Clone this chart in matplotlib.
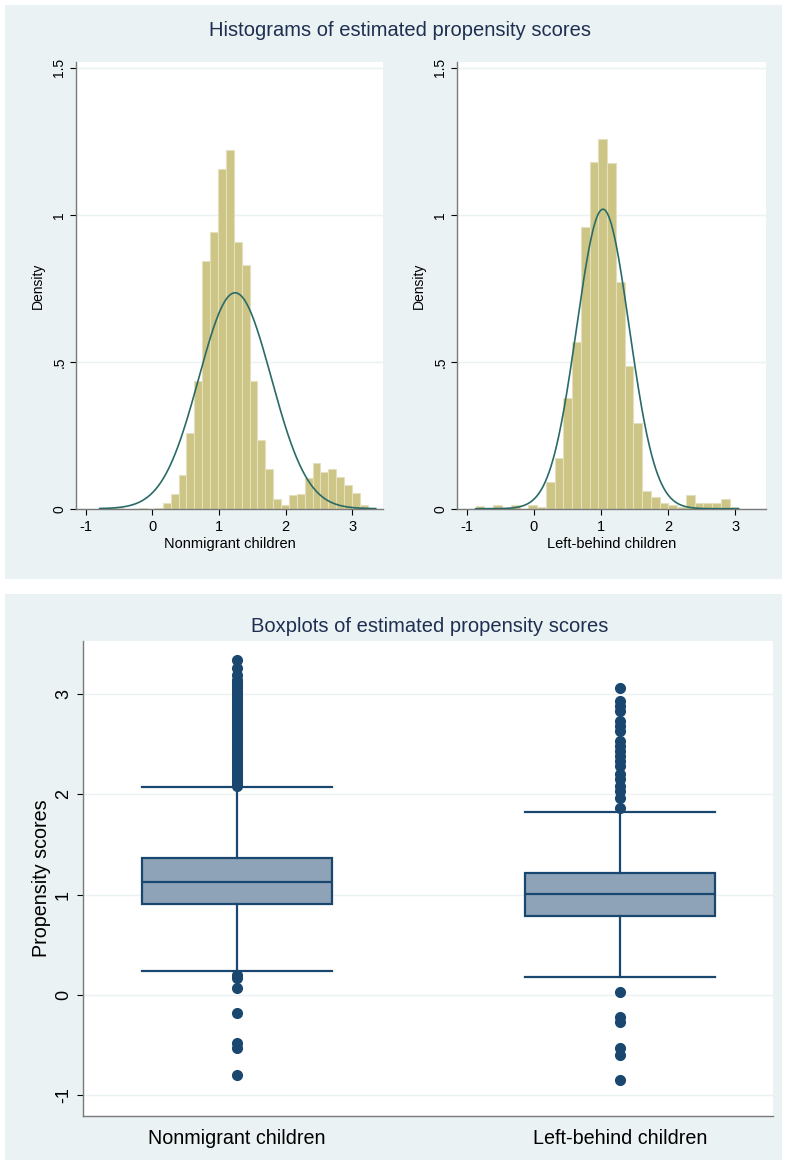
import numpy as np
import matplotlib
matplotlib.use("Agg")
import matplotlib.pyplot as plt
from matplotlib.patches import Rectangle

plt.rcParams['font.family'] = ['Liberation Sans', 'DejaVu Sans']

# ---------------- data ----------------
hist_titles = ["Nonmigrant children", "Left-behind children"]

# Nonmigrant histogram: 35 bins
nm_bin_start = -0.79
nm_bin_width = 0.1183
nm_density = [0.002, 0.002, 0.002, 0.0, 0.0, 0.003, 0.0, 0.003, 0.019, 0.050,
              0.116, 0.259, 0.435, 0.843, 0.940, 1.156, 1.221, 0.909, 0.829, 0.435,
              0.233, 0.134, 0.032, 0.014, 0.046, 0.050, 0.103, 0.156, 0.124, 0.134,
              0.107, 0.080, 0.052, 0.011, 0.003]
nm_mean, nm_sd = 1.241, 0.543
nm_range = (-0.79, 3.35)

# Left-behind histogram: 30 bins
lb_bin_start = -0.866
lb_bin_width = 0.1305
lb_density = [0.008, 0.0, 0.014, 0.0, 0.014, 0.0, 0.014, 0.006, 0.091, 0.174,
              0.378, 0.566, 0.960, 1.181, 1.259, 1.175, 0.772, 0.486, 0.293, 0.059,
              0.039, 0.018, 0.014, 0.006, 0.046, 0.018, 0.018, 0.018, 0.032, 0.006]
lb_mean, lb_sd = 1.03, 0.3915
lb_range = (-0.866, 3.05)

hist_yticks = [0, 0.5, 1, 1.5]
hist_yticklabels = ["0", ".5", "1", "1.5"]
hist_xticks = [-1, 0, 1, 2, 3]

# Boxplot statistics
box_labels = ["Nonmigrant children", "Left-behind children"]
box_q1 = [0.91, 0.79]
box_med = [1.13, 1.01]
box_q3 = [1.36, 1.21]
box_whislo = [0.24, 0.18]
box_whishi = [2.07, 1.82]
nm_outliers = [3.34, 3.26, 3.19, 3.14, 3.12, 3.10, 3.07, 3.05, 3.02, 3.00, 2.97,
               2.95, 2.92, 2.90, 2.87, 2.85, 2.82, 2.80, 2.77, 2.75, 2.72, 2.70,
               2.67, 2.65, 2.62, 2.60, 2.57, 2.55, 2.52, 2.50, 2.47, 2.45, 2.42,
               2.40, 2.37, 2.35, 2.32, 2.30, 2.27, 2.25, 2.22, 2.20, 2.17, 2.15,
               2.12, 2.10, 2.08,
               0.20, 0.17, 0.07, -0.18, -0.48, -0.53, -0.80]
lb_outliers = [3.06, 2.93, 2.88, 2.83, 2.73, 2.68, 2.63, 2.53, 2.48, 2.43, 2.38,
               2.33, 2.28, 2.20, 2.15, 2.08, 2.03, 1.96, 1.86,
               0.03, -0.22, -0.27, -0.53, -0.60, -0.85]
box_yticks = [-1, 0, 1, 2, 3]

# ---------------- style ----------------
BG = "#EAF2F3"
BAR = "#CCC585"
BAR_EDGE = "#E4E0BE"
CURVE = "#2A6B67"
NAVY = "#1A476F"
BOXFILL = "#8EA3B8"
TITLE = "#1E2F52"
AXIS = "#7A7A7A"

W, H = 785, 1164
fig = plt.figure(figsize=(W / 100, H / 100), dpi=100)
fig.patch.set_facecolor("white")


def fx(px):
    return px / W


def fy(py):
    return 1 - py / H


def add_axes_px(x0, y0, x1, y1):
    ax = fig.add_axes([fx(x0), fy(y1), fx(x1) - fx(x0), (y1 - y0) / H])
    ax.set_zorder(2)
    return ax


# panel backgrounds (on an underlying invisible axes)
bg_ax = fig.add_axes([0, 0, 1, 1], zorder=-5)
bg_ax.set_axis_off()
bg_ax.set_xlim(0, 1)
bg_ax.set_ylim(0, 1)
bg_ax.add_patch(Rectangle((fx(4.5), fy(579)), fx(782) - fx(4.5), (579 - 5) / H,
                          facecolor=BG, edgecolor="none"))
bg_ax.add_patch(Rectangle((fx(4.5), fy(1160)), fx(782) - fx(4.5), (1160 - 594) / H,
                          facecolor=BG, edgecolor="none"))

fig.text(fx(400), fy(30), "Histograms of estimated propensity scores", ha="center", va="center",
         fontsize=14.5, color=TITLE)
fig.text(fx(430), fy(627), "Boxplots of estimated propensity scores", ha="center", va="center",
         fontsize=14.5, color=TITLE)


def style_axes(ax):
    ax.set_facecolor("white")
    for s in ["top", "right"]:
        ax.spines[s].set_visible(False)
    for s in ["left", "bottom"]:
        ax.spines[s].set_color(AXIS)
        ax.spines[s].set_linewidth(1.0)
    ax.tick_params(direction="out", length=4, width=0.8, color="black")


def draw_hist(ax, start, width, dens, mean, sd, rng, xlabel):
    style_axes(ax)
    n = len(dens)
    lefts = [start + i * width for i in range(n)]
    ax.bar(lefts, dens, width=width, align="edge", color=BAR, edgecolor=BAR_EDGE,
           linewidth=0.8, zorder=2)
    xs = np.linspace(rng[0], rng[1], 400)
    ys = np.exp(-0.5 * ((xs - mean) / sd) ** 2) / (sd * np.sqrt(2 * np.pi))
    ax.plot(xs, ys, color=CURVE, linewidth=1.2, zorder=3)
    ax.set_xlim(-1.145, 3.46)
    ax.set_ylim(0, 1.52)
    ax.set_yticks(hist_yticks)
    ax.set_yticklabels(hist_yticklabels, rotation=90, va="center", fontsize=10)
    ax.set_xticks(hist_xticks)
    ax.set_xticklabels([str(t) for t in hist_xticks], fontsize=10.5)
    ax.tick_params(axis="x", pad=4)
    ax.tick_params(axis="y", pad=3)
    ax.grid(axis="y", color=BG, linewidth=1.0, zorder=0)
    ax.set_axisbelow(True)
    ax.set_ylabel("Density", fontsize=10, labelpad=5)
    ax.set_xlabel(xlabel, fontsize=10.5, labelpad=2)


ax1 = add_axes_px(76, 62, 383, 508.7)
draw_hist(ax1, nm_bin_start, nm_bin_width, nm_density, nm_mean, nm_sd, nm_range, hist_titles[0])
ax2 = add_axes_px(457, 62, 766, 508.7)
draw_hist(ax2, lb_bin_start, lb_bin_width, lb_density, lb_mean, lb_sd, lb_range, hist_titles[1])

# boxplots
ax3 = add_axes_px(83, 641, 773, 1116)
style_axes(ax3)
stats = []
for i, outl in enumerate([nm_outliers, lb_outliers]):
    stats.append(dict(med=box_med[i], q1=box_q1[i], q3=box_q3[i], whislo=box_whislo[i],
                      whishi=box_whishi[i], fliers=outl, label=box_labels[i]))
line_kw = dict(color=NAVY, linewidth=1.6)
ax3.bxp(stats, positions=[0, 1], widths=0.496, capwidths=0.496, patch_artist=True,
        boxprops=dict(facecolor=BOXFILL, edgecolor=NAVY, linewidth=1.6),
        medianprops=line_kw, whiskerprops=line_kw, capprops=line_kw,
        flierprops=dict(marker="o", markerfacecolor=NAVY, markeredgecolor=NAVY, markersize=7),
        zorder=3)
ax3.set_xlim(-0.402, 1.399)
ax3.set_ylim(-1.21, 3.53)
ax3.set_yticks(box_yticks)
ax3.set_yticklabels([str(t) for t in box_yticks], rotation=90, va="center", fontsize=13)
ax3.set_xticks([0, 1])
ax3.set_xticklabels(box_labels, fontsize=14.2)
ax3.tick_params(axis="x", length=0, pad=9)
ax3.tick_params(axis="y", pad=4)
ax3.grid(axis="y", color=BG, linewidth=1.0, zorder=0)
ax3.set_axisbelow(True)
ax3.set_ylabel("Propensity scores", fontsize=14.2, labelpad=3)

fig.savefig("out.png", dpi=100, facecolor=fig.get_facecolor())
